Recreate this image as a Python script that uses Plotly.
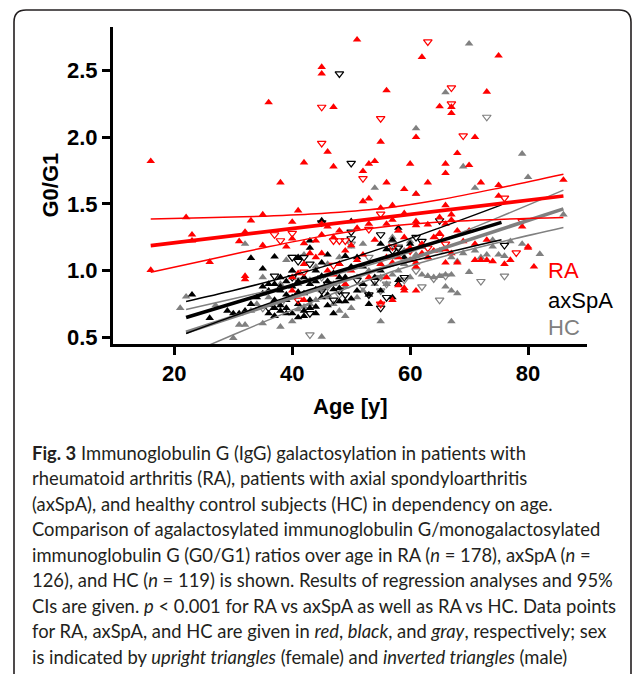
import plotly.graph_objects as go

# ---------------- data ----------------
# RA, female (upright triangles)
ra_f_age = [16, 36, 45, 45, 47, 46, 42, 47, 38, 51, 62, 75, 56, 73, 65, 67, 67, 61, 71, 55, 68, 53, 54, 60, 66, 70,
            52, 66, 56, 63, 59, 72, 75, 86, 61, 75, 52, 53, 55, 57, 66, 67,
            22, 35, 41, 33, 40, 46, 23, 23, 32, 31, 35, 40, 39, 42, 44, 45, 16, 32, 32, 26, 63, 61, 61, 67, 79, 81, 80,
            73, 71, 72, 73, 74, 58, 59, 54, 50, 49, 52, 56, 58, 60, 61, 61, 62, 64, 65, 66, 66, 68, 68, 70, 47, 43,
            44, 45, 42, 41, 40, 48, 50, 55, 57, 58, 59, 59, 61, 57, 55, 42, 40, 46, 47, 51, 53, 49, 56, 60, 62, 63,
            64, 67, 69, 71, 76, 77, 80, 65, 66, 59, 57, 56, 53, 51, 48, 45]
ra_f_val = [1.82, 2.26, 2.525, 2.475, 2.225, 1.89, 1.81, 1.78, 1.66, 2.73, 2.60, 2.61, 2.35, 2.34, 2.23, 2.225, 2.18,
            2.00, 2.00, 1.965, 1.88, 1.80, 1.82, 1.80, 1.80, 1.79, 1.745, 1.73, 1.66, 1.66, 1.61, 1.66, 1.64, 1.68,
            1.575, 1.56, 1.52, 1.54, 1.47, 1.49, 1.49, 1.42,
            1.40, 1.42, 1.45, 1.375, 1.365, 1.33, 1.27, 1.225, 1.29, 1.22, 1.19, 1.24, 1.18, 1.205, 1.225, 1.27, 1.005,
            0.96, 0.935, 1.065, 1.345, 1.37, 1.34, 1.38, 1.33, 1.03, 1.18,
            1.23, 1.08, 1.08, 1.08, 1.07, 1.30, 1.25, 1.23, 1.19, 1.15, 1.12, 1.10, 1.10, 1.08, 1.06, 1.03, 1.20, 1.25,
            1.28, 1.16, 1.06, 1.06, 1.30, 1.30, 1.25, 1.13,
            1.10, 1.13, 1.05, 0.98, 0.95, 1.05, 1.00, 1.05, 1.06, 0.89, 0.85, 0.87, 0.85, 0.78, 0.76, 0.78, 0.85, 1.00,
            0.97, 1.08, 0.95, 0.90, 0.95, 1.17, 1.13, 1.10,
            1.15, 1.13, 1.22, 1.20, 1.05, 1.08, 1.17, 1.40, 1.35, 1.43, 1.38, 1.35, 1.35, 1.32, 1.30, 1.35]

# RA, male (inverted triangles)
ra_m_age = [45, 45, 63, 67, 67, 55, 69, 52, 76, 55, 37, 38, 40, 47, 48, 49, 79, 78, 53, 57, 60, 55, 41, 42, 65,
            47, 66, 63]
ra_m_val = [2.225, 1.955, 2.715, 2.37, 2.25, 2.14, 2.01, 1.69, 1.545, 1.425, 1.27, 1.225, 1.28, 1.225, 1.225, 1.225,
            1.37, 1.135, 1.31, 1.18, 1.15, 0.75, 0.78, 0.99, 1.25, 1.04, 1.20, 1.17]

# axSpA, female
ax_f_age = [45, 43, 43, 33, 37, 35, 23, 26, 30, 31, 50, 58, 49, 48, 57, 55, 58, 58, 62, 60, 59, 53, 55, 54, 41,
            44, 47, 49, 50, 38, 37, 36, 35, 36, 37, 38, 38, 39, 39, 40, 40, 41, 41, 42, 43, 43, 44, 45, 46, 47,
            48, 48, 34, 33, 32, 29, 42, 39, 37, 36, 44, 45, 46, 50, 51, 52, 56, 46, 38, 40, 41, 44, 39, 35, 52, 55,
            37, 38, 40, 42, 43, 46, 48, 39, 41, 45, 47, 44, 42, 49, 51, 53, 57]
ax_f_val = [1.375, 1.225, 1.17, 1.095, 1.105, 1.015, 0.82, 0.645, 0.68, 0.68, 1.37, 1.32, 1.11, 1.05, 1.23, 1.20,
            0.93, 0.90, 1.18, 1.20, 1.10, 0.75, 0.85, 0.95, 0.65, 0.68, 0.68, 0.77, 0.79, 0.70, 0.72, 0.68, 0.83,
            0.90, 0.90, 0.88, 0.85, 0.92, 0.82, 0.88, 0.80, 0.92, 0.75, 0.83, 0.90, 0.78, 0.86, 0.96, 0.92, 0.98,
            0.95, 0.87, 0.80, 0.75, 0.70, 0.70, 0.70, 0.72, 0.78, 0.85, 1.00, 1.06, 1.12, 1.03, 0.85, 0.90, 1.16,
            0.82, 0.95, 1.00, 1.10, 0.73, 0.68, 0.88, 1.03, 1.00,
            0.66, 0.74, 0.68, 0.66, 0.72, 0.74, 0.77, 0.78, 0.84, 0.80, 0.86, 0.92, 0.95, 0.95, 1.10, 0.82, 0.80]

# axSpA, male
ax_m_age = [48, 50, 45, 55, 50, 50, 65, 76, 58, 57, 62, 40, 41, 43, 37, 40, 43, 45, 49, 47, 53, 56, 54, 59, 55,
            61, 42, 48, 51, 46, 36]
ax_m_val = [2.475, 1.805, 1.36, 1.27, 1.29, 1.24, 1.375, 1.19, 1.17, 1.15, 1.22, 1.10, 1.07, 1.05, 0.96, 0.95,
            0.68, 0.85, 0.82, 0.78, 0.82, 0.80, 0.92, 0.95, 0.72, 1.25, 1.10, 0.85, 0.93, 0.90, 0.72]

# HC, female
hc_f_age = [70, 66, 61, 79, 69, 54, 71, 80, 61, 86, 82, 79, 74, 68, 70, 32, 39, 22, 21, 27, 31, 32, 30, 35, 38, 45,
            55, 67, 37, 40, 41, 42, 43, 44, 45, 46, 47, 48, 49, 50, 51, 52, 53, 54, 55, 56, 57, 58, 59, 60, 62,
            63, 64, 65, 66, 67, 68, 66, 67, 72, 73, 75, 76, 77, 60, 58, 57, 52, 50, 48, 46, 44, 42, 40, 38, 36,
            34, 33, 35, 41, 43, 47, 49, 51, 53, 55, 57, 59, 61, 63, 65, 67, 69, 71, 74]
hc_f_val = [2.70, 2.335, 2.065, 1.875, 1.78, 1.62, 1.62, 1.70, 1.575, 1.42, 1.125, 1.20, 1.23, 1.07, 0.99, 1.20,
            1.08, 0.805, 0.72, 0.74, 0.595, 0.595, 0.495, 0.605, 0.58, 0.505, 0.62, 0.62, 0.66, 0.62, 0.71, 0.73,
            0.75, 0.78, 0.85, 0.80, 0.75, 0.70, 0.66, 0.72, 0.80, 0.85, 0.82, 0.90, 0.95, 0.90, 0.97, 1.00, 1.05,
            0.95, 0.97, 0.96, 0.95, 0.96, 0.88, 0.85, 0.83, 0.97, 0.97, 1.10, 1.12, 1.12, 1.11, 1.22, 1.22, 1.30,
            1.25, 1.20, 1.18, 1.10, 1.05, 1.03, 1.12, 1.00, 0.90, 0.80, 0.75, 0.70, 0.95, 0.90, 0.93, 0.90, 0.88,
            0.95, 1.00, 1.05, 1.10, 1.15, 1.12, 1.10, 1.15, 1.10, 1.13, 1.15, 1.18]

# HC, male
hc_m_age = [73, 72, 76, 65, 64, 66, 43, 48, 46, 52, 55, 56, 59, 61, 62, 50, 53, 57, 58, 41, 40, 38, 35, 45, 55]
hc_m_val = [2.15, 0.92, 0.96, 0.78, 0.94, 0.96, 0.52, 0.82, 0.88, 0.88, 0.95, 0.90, 0.93, 1.00, 0.88, 1.20, 1.10,
            1.20, 1.18, 0.93, 1.10, 0.75, 0.72, 0.95, 0.85]

# Regression lines with 95% CI
ra_fit_age = [16, 25, 35, 45, 55, 65, 75, 86]
ra_fit_mean = [1.188, 1.236, 1.289, 1.342, 1.395, 1.448, 1.501, 1.560]
ra_fit_upper = [1.388, 1.396, 1.408, 1.428, 1.465, 1.532, 1.618, 1.722]
ra_fit_lower = [0.988, 1.075, 1.170, 1.257, 1.325, 1.364, 1.384, 1.398]

ax_fit_age = [22, 30, 38, 47, 56, 65, 75.5]
ax_fit_mean = [0.650, 0.756, 0.863, 0.983, 1.102, 1.222, 1.362]
ax_fit_upper = [0.770, 0.852, 0.941, 1.053, 1.180, 1.321, 1.493]
ax_fit_lower = [0.530, 0.660, 0.785, 0.913, 1.024, 1.123, 1.231]

hc_fit_age = [22, 30, 40, 50, 57.5, 65, 75, 86]
hc_fit_mean = [0.539, 0.655, 0.799, 0.943, 1.052, 1.160, 1.305, 1.463]
hc_fit_upper = [0.709, 0.790, 0.893, 1.004, 1.102, 1.221, 1.399, 1.603]
hc_fit_lower = [0.369, 0.520, 0.705, 0.882, 1.002, 1.099, 1.211, 1.323]

x_ticks = [20, 40, 60, 80]
y_ticks = [0.5, 1.0, 1.5, 2.0, 2.5]
group_labels = ["RA", "axSpA", "HC"]

caption_lines = [
    "<b>Fig. 3</b> Immunoglobulin G (IgG) galactosylation in patients with",
    "rheumatoid arthritis (RA), patients with axial spondyloarthritis",
    "(axSpA), and healthy control subjects (HC) in dependency on age.",
    "Comparison of agalactosylated immunoglobulin G/monogalactosylated",
    "immunoglobulin G (G0/G1) ratios over age in RA (<i>n</i> = 178), axSpA (<i>n</i> =",
    "126), and HC (<i>n</i> = 119) is shown. Results of regression analyses and 95%",
    "CIs are given. <i>p</i> &lt; 0.001 for RA vs axSpA as well as RA vs HC. Data points",
    "for RA, axSpA, and HC are given in <i>red</i>, <i>black</i>, and <i>gray</i>, respectively; sex",
    "is indicated by <i>upright triangles</i> (female) and <i>inverted triangles</i> (male)",
]

# ---------------- styling ----------------
RED = "#ff0000"
BLACK = "#000000"
GRAY = "#808080"
AX_FONT = "Liberation Sans, Arial, sans-serif"
CAP_FONT = "Lato, Open Sans, sans-serif"

W, H = 633, 674
L, R, T, B = 113, 46, 27, 330
PW, PH = W - L - R, H - T - B


def px_x(px):
    return (px - L) / PW


def px_y(py):
    return (H - B - py) / PH


fig = go.Figure()

def add_points(ages, vals, color, up):
    if up:
        marker = dict(symbol="triangle-up", size=7.5, color=color, line=dict(width=0))
    else:
        marker = dict(symbol="triangle-down-open", size=7.5, color=color, line=dict(width=1.2, color=color))
    fig.add_trace(go.Scatter(x=ages, y=vals, mode="markers", marker=marker, hoverinfo="skip"))

add_points(hc_f_age, hc_f_val, GRAY, True)
add_points(hc_m_age, hc_m_val, GRAY, False)
add_points(ax_f_age, ax_f_val, BLACK, True)
add_points(ax_m_age, ax_m_val, BLACK, False)
add_points(ra_f_age, ra_f_val, RED, True)
add_points(ra_m_age, ra_m_val, RED, False)

def add_fit(ages, mean, upper, lower, color):
    for ys, w in ((upper, 1.5), (lower, 1.5)):
        fig.add_trace(go.Scatter(x=ages, y=ys, mode="lines", line=dict(color=color, width=w, shape="spline"),
                                 hoverinfo="skip"))
    fig.add_trace(go.Scatter(x=ages, y=mean, mode="lines", line=dict(color=color, width=3.6),
                             hoverinfo="skip"))

add_fit(hc_fit_age, hc_fit_mean, hc_fit_upper, hc_fit_lower, GRAY)
add_fit(ax_fit_age, ax_fit_mean, ax_fit_upper, ax_fit_lower, BLACK)
add_fit(ra_fit_age, ra_fit_mean, ra_fit_upper, ra_fit_lower, RED)

annotations = []
# axis titles
annotations.append(dict(text="Age [y]", x=0.5, y=px_y(406), xref="paper", yref="paper", showarrow=False,
                        xanchor="center", yanchor="middle",
                        font=dict(family=AX_FONT, size=22, color="black", weight="bold")))
annotations.append(dict(text="G0/G1", x=px_x(50), y=0.5, xref="paper", yref="paper", showarrow=False,
                        textangle=-90, xanchor="center", yanchor="middle",
                        font=dict(family=AX_FONT, size=22, color="black", weight="bold")))
# group labels
for lab, col, py in zip(group_labels, [RED, BLACK, GRAY], [270, 300, 327]):
    annotations.append(dict(text=lab, x=px_x(546), y=px_y(py), xref="paper", yref="paper", showarrow=False,
                            xanchor="left", yanchor="middle", font=dict(family=AX_FONT, size=22, color=col)))
# caption
for i, line in enumerate(caption_lines):
    annotations.append(dict(text=line, x=px_x(30), y=px_y(453 + i * 25.46), xref="paper", yref="paper",
                            showarrow=False, xanchor="left", yanchor="middle", align="left",
                            font=dict(family=CAP_FONT, size=18.4, color="#231f20")))

# border frame (rounded top corners, open at bottom)
bx0, bx1, by0, rad = 14, 631, 10, 12
path = (f"M {px_x(bx0)},{px_y(H + 5)} L {px_x(bx0)},{px_y(by0 + rad)} "
        f"Q {px_x(bx0)},{px_y(by0)} {px_x(bx0 + rad)},{px_y(by0)} "
        f"L {px_x(bx1 - rad)},{px_y(by0)} Q {px_x(bx1)},{px_y(by0)} {px_x(bx1)},{px_y(by0 + rad)} "
        f"L {px_x(bx1)},{px_y(H + 5)}")
shapes = [dict(type="path", path=path, xref="paper", yref="paper", line=dict(color="#231f20", width=1.6),
               layer="above")]

fig.update_layout(
    width=W, height=H,
    margin=dict(l=L, r=R, t=T, b=B, pad=0),
    paper_bgcolor="white", plot_bgcolor="white",
    showlegend=False, hovermode=False,
    annotations=annotations, shapes=shapes,
    xaxis=dict(range=[9.6, 90], tickvals=x_ticks, ticks="outside", ticklen=8, tickwidth=3, tickcolor="black",
               showline=True, linewidth=3, linecolor="black", showgrid=False, zeroline=False,
               tickfont=dict(family=AX_FONT, size=22, color="black", weight="bold")),
    yaxis=dict(range=[0.451, 2.825], tickvals=y_ticks, ticktext=[f"{v:.1f}" for v in y_ticks],
               ticks="outside", ticklen=8, tickwidth=3, tickcolor="black",
               showline=True, linewidth=3, linecolor="black", showgrid=False, zeroline=False,
               tickfont=dict(family=AX_FONT, size=22, color="black", weight="bold")),
)

fig.write_html("out.html")
